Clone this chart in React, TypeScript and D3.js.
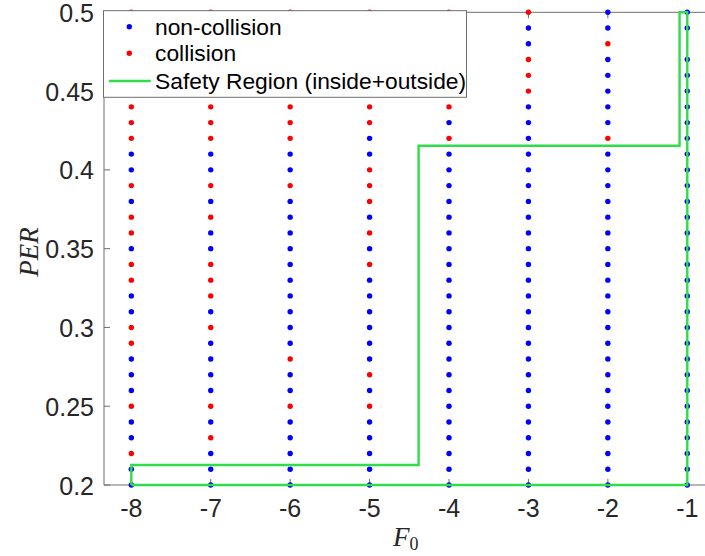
import React from "react";
import * as d3 from "d3";

const F0_VALUES = [-8, -7, -6, -5, -4, -3, -2, -1];
const PER_LEVELS = [
  0.2, 0.21, 0.22, 0.23, 0.24, 0.25, 0.26, 0.27, 0.28, 0.29, 0.3, 0.31, 0.32,
  0.33, 0.34, 0.35, 0.36, 0.37, 0.38, 0.39, 0.4, 0.41, 0.42, 0.43, 0.44, 0.45,
  0.46, 0.47, 0.48, 0.49, 0.5,
];
// collision PER values per F0 column
const COLLISION_M8 = [0.5, 0.49, 0.48, 0.47, 0.46, 0.45, 0.44, 0.43, 0.42, 0.39, 0.37, 0.36, 0.34, 0.33, 0.3, 0.29, 0.25, 0.22];
const COLLISION_M7 = [0.5, 0.49, 0.48, 0.47, 0.46, 0.45, 0.44, 0.43, 0.42, 0.39, 0.37, 0.34, 0.33, 0.32, 0.3, 0.25, 0.23];
const COLLISION_M6 = [0.5, 0.49, 0.48, 0.47, 0.46, 0.45, 0.44, 0.43, 0.42, 0.39, 0.28, 0.25];
const COLLISION_M5 = [0.5, 0.49, 0.48, 0.47, 0.46, 0.45, 0.44, 0.43, 0.4, 0.39, 0.38, 0.36, 0.34, 0.27, 0.25];
const COLLISION_M4 = [0.5, 0.48, 0.46, 0.44, 0.42];
const COLLISION_M3 = [0.5, 0.47, 0.46, 0.45];
const COLLISION_M2 = [0.48, 0.42];
const COLLISION_M1: number[] = [];
const COLLISIONS = [COLLISION_M8, COLLISION_M7, COLLISION_M6, COLLISION_M5, COLLISION_M4, COLLISION_M3, COLLISION_M2, COLLISION_M1];
// points not tested: [F0, PER]
const MISSING = [[-1, 0.48]];

// Safety region boundary
const SAFETY_F0 = [-8, -8, -4.383, -4.383, -1.097, -1.097, -1, -1, -8];
const SAFETY_PER = [0.2, 0.2127, 0.2127, 0.4153, 0.4153, 0.5, 0.5, 0.2, 0.2];

const X_TICKS = [-8, -7, -6, -5, -4, -3, -2, -1];
const Y_TICKS = [0.2, 0.25, 0.3, 0.35, 0.4, 0.45, 0.5];
const Y_TICK_LABELS = ["0.2", "0.25", "0.3", "0.35", "0.4", "0.45", "0.5"];
const LEGEND_LABELS = ["non-collision", "collision", "Safety Region (inside+outside)"];

const W = 705;
const H = 556;
const LEFT = 104;
const TOP = 12.3;
const BOTTOM = 485;

export default function App() {
  const x = d3.scaleLinear().domain([-8.344, -0.656]).range([LEFT, 714.6]);
  const y = d3.scaleLinear().domain([0.2, 0.5]).range([BOTTOM, TOP]);

  const pts: { f: number; p: number; c: boolean }[] = [];
  F0_VALUES.forEach((f, i) => {
    PER_LEVELS.forEach((p) => {
      if (MISSING.some((m) => m[0] === f && Math.abs(m[1] - p) < 1e-6)) return;
      const c = COLLISIONS[i].some((v) => Math.abs(v - p) < 1e-6);
      pts.push({ f, p, c });
    });
  });

  const line = d3
    .line<number>()
    .x((_, i) => x(SAFETY_F0[i]))
    .y((_, i) => y(SAFETY_PER[i]));
  const safetyPath = line(SAFETY_F0.map((_, i) => i)) || "";

  const green = "#2fdc4a";
  const axisColor = "#6e6e6e";
  const textColor = "#262626";
  const font = "'Liberation Sans', Arial, Helvetica, sans-serif";

  return (
    <svg
      width={W}
      height={H}
      style={{ position: "absolute", left: 0, top: 0, background: "#fff" }}
    >
      <rect x={0} y={0} width={W} height={H} fill="#fff" />
      {/* axes */}
      <line x1={LEFT} x2={W} y1={BOTTOM} y2={BOTTOM} stroke={axisColor} strokeWidth={1} />
      <line x1={LEFT} x2={W} y1={TOP} y2={TOP} stroke={axisColor} strokeWidth={1} />
      <line x1={LEFT} x2={LEFT} y1={TOP} y2={BOTTOM} stroke={axisColor} strokeWidth={1} />
      {X_TICKS.map((t) => (
        <g key={"xt" + t}>
          <line x1={x(t)} x2={x(t)} y1={BOTTOM} y2={BOTTOM - 6} stroke={axisColor} />
          <line x1={x(t)} x2={x(t)} y1={TOP} y2={TOP + 6} stroke={axisColor} />
          <text
            x={x(t)}
            y={517}
            textAnchor="middle"
            fontFamily={font}
            fontSize={25}
            fill={textColor}
          >
            {String(t)}
          </text>
        </g>
      ))}
      {Y_TICKS.map((t, i) => (
        <g key={"yt" + t}>
          <line x1={LEFT} x2={LEFT + 6} y1={y(t)} y2={y(t)} stroke={axisColor} />
          <text
            x={94}
            y={y(t) + 9.5}
            textAnchor="end"
            fontFamily={font}
            fontSize={25}
            fill={textColor}
          >
            {Y_TICK_LABELS[i]}
          </text>
        </g>
      ))}
      {/* points */}
      {pts.map((d, i) => (
        <circle
          key={i}
          cx={x(d.f)}
          cy={y(d.p)}
          r={2.7}
          fill={d.c ? "#ff0000" : "#0000ff"}
        />
      ))}
      {/* safety region */}
      <path d={safetyPath} fill="none" stroke={green} strokeWidth={2.4} strokeLinejoin="miter" />
      {/* labels */}
      <text
        transform="translate(38,252) rotate(-90)"
        textAnchor="middle"
        fontFamily="'Liberation Serif', 'Times New Roman', serif"
        fontStyle="italic"
        fontSize={27}
        fill={textColor}
      >
        PER
      </text>
      <text
        x={393}
        y={546}
        fontFamily="'Liberation Serif', 'Times New Roman', serif"
        fontStyle="italic"
        fontSize={27}
        fill={textColor}
      >
        F
        <tspan fontStyle="normal" fontSize={18} dy={4}>
          0
        </tspan>
      </text>
      {/* legend */}
      <g>
        <rect x={103.5} y={10.7} width={363} height={86.6} fill="#fff" stroke={axisColor} strokeWidth={1} />
        {LEGEND_LABELS.map((lab, i) => {
          const cy = [26.7, 53.3, 81][i];
          return (
            <g key={lab}>
              {i < 2 ? (
                <circle cx={129.3} cy={cy} r={2.7} fill={i === 0 ? "#0000ff" : "#ff0000"} />
              ) : (
                <line x1={109} x2={150.7} y1={cy} y2={cy} stroke={green} strokeWidth={2.4} />
              )}
              <text x={155} y={cy + 8} fontFamily={font} fontSize={22.8} fill="#000">
                {lab}
              </text>
            </g>
          );
        })}
      </g>
    </svg>
  );
}
